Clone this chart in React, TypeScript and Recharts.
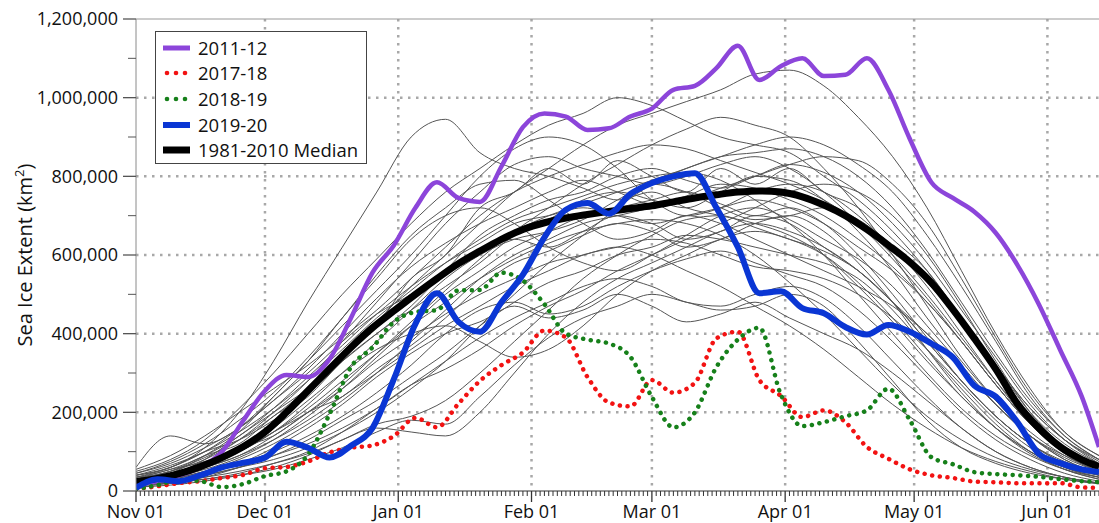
import { LineChart, Line, XAxis, YAxis, CartesianGrid, ReferenceLine, Label } from 'recharts';

// days since Nov 01
const monthDays = [0, 30, 61, 92, 120, 151, 181, 212];
const monthLabels = ['Nov 01', 'Dec 01', 'Jan 01', 'Feb 01', 'Mar 01', 'Apr 01', 'May 01', 'Jun 01'];
const dayTicks = Array.from({ length: 225 }, (_, i) => i);
const yTicks = [0, 100000, 200000, 300000, 400000, 500000, 600000, 700000, 800000, 900000, 1000000, 1100000, 1200000];

// highlighted seasons sampled every 5 days (thousand km2)
const hiDays = [0, 5, 10, 15, 20, 25, 30, 35, 40, 45, 50, 55, 60, 65, 70, 75, 80, 85, 90, 95, 100, 105, 110, 115, 120, 125, 130, 135, 140, 145, 150, 155, 160, 165, 170, 175, 180, 185, 190, 195, 200, 205, 210, 215, 220, 224];
const median = [24, 32, 44, 62, 85, 113, 150, 200, 255, 310, 365, 415, 458, 500, 540, 578, 610, 640, 665, 682, 694, 703, 711, 718, 725, 735, 745, 753, 760, 763, 760, 748, 727, 700, 665, 625, 582, 530, 462, 388, 310, 222, 160, 112, 80, 62];
const s2011 = [15, 25, 40, 60, 100, 180, 255, 295, 290, 335, 440, 555, 625, 720, 785, 745, 735, 825, 925, 960, 952, 918, 922, 952, 972, 1020, 1030, 1075, 1132, 1045, 1080, 1100, 1055, 1058, 1100, 1020, 895, 785, 745, 710, 656, 575, 475, 358, 240, 112];
const s2017 = [5, 12, 20, 25, 33, 41, 58, 61, 75, 98, 110, 116, 140, 186, 162, 222, 280, 320, 352, 408, 390, 290, 225, 215, 282, 250, 275, 388, 405, 282, 242, 188, 205, 175, 112, 82, 55, 40, 33, 24, 22, 20, 20, 20, 9, 8];
const s2018 = [5, 15, 28, 25, 10, 18, 38, 50, 92, 195, 315, 365, 430, 455, 460, 510, 511, 555, 535, 475, 400, 385, 375, 341, 239, 162, 200, 315, 385, 415, 245, 165, 175, 190, 205, 260, 180, 86, 68, 48, 43, 40, 36, 30, 25, 23];
const s2019 = [8, 30, 25, 40, 60, 72, 85, 125, 110, 85, 115, 160, 285, 425, 503, 430, 405, 480, 550, 645, 715, 732, 705, 755, 783, 800, 808, 720, 620, 503, 508, 465, 452, 417, 398, 422, 405, 375, 340, 268, 240, 175, 95, 71, 55, 48];

// other years, sampled every 8 days (thousand km2)
const greyDays = [0, 8, 16, 24, 32, 40, 48, 56, 64, 72, 80, 88, 96, 104, 112, 120, 128, 136, 144, 152, 160, 168, 176, 184, 192, 200, 208, 216, 224];
const greyRuns = [
  [40, 60, 110, 200, 330, 480, 620, 760, 900, 945, 860, 820, 800, 770, 740, 760, 720, 700, 680, 650, 600, 520, 430, 330, 240, 160, 100, 60, 40],
  [30, 45, 70, 110, 170, 250, 340, 430, 520, 600, 680, 760, 820, 880, 930, 960, 990, 1020, 1060, 1070, 1030, 950, 850, 720, 560, 400, 260, 150, 90],
  [50, 80, 130, 210, 300, 400, 500, 590, 680, 760, 820, 880, 930, 960, 1000, 980, 940, 900, 880, 860, 800, 740, 660, 560, 440, 320, 210, 130, 80],
  [15, 20, 30, 40, 55, 80, 110, 150, 180, 170, 240, 320, 390, 440, 470, 500, 480, 460, 470, 500, 470, 380, 280, 180, 110, 70, 45, 30, 20],
  [25, 35, 55, 85, 130, 190, 260, 340, 420, 500, 560, 620, 660, 700, 720, 740, 760, 730, 700, 720, 680, 600, 500, 390, 280, 190, 120, 75, 45],
  [20, 40, 80, 140, 200, 260, 330, 400, 470, 560, 650, 700, 740, 760, 800, 820, 790, 770, 800, 830, 810, 760, 680, 580, 460, 340, 220, 130, 70],
  [10, 20, 35, 60, 90, 130, 180, 230, 290, 350, 420, 480, 530, 560, 600, 620, 650, 640, 620, 600, 580, 540, 460, 360, 260, 170, 100, 55, 30],
  [45, 75, 120, 180, 250, 340, 440, 550, 650, 720, 780, 790, 740, 680, 640, 660, 700, 680, 640, 600, 560, 520, 470, 400, 310, 220, 140, 90, 55],
  [15, 25, 40, 60, 80, 110, 150, 200, 260, 330, 420, 500, 580, 650, 720, 780, 820, 850, 880, 900, 880, 830, 760, 650, 520, 380, 240, 140, 80],
  [35, 55, 90, 140, 210, 290, 370, 450, 520, 580, 630, 680, 700, 720, 700, 680, 700, 720, 740, 720, 680, 620, 560, 480, 380, 270, 170, 100, 60],
  [30, 50, 80, 130, 200, 280, 380, 480, 580, 680, 760, 830, 850, 820, 800, 780, 800, 830, 850, 820, 760, 680, 590, 490, 380, 270, 170, 100, 55],
  [20, 30, 45, 70, 100, 140, 190, 250, 320, 400, 460, 480, 450, 470, 520, 560, 590, 610, 580, 550, 520, 460, 380, 290, 200, 130, 80, 45, 25],
  [40, 65, 100, 150, 210, 280, 360, 440, 510, 580, 640, 690, 720, 750, 780, 800, 810, 790, 740, 680, 600, 500, 400, 300, 210, 140, 90, 55, 35],
  [25, 45, 70, 100, 150, 220, 300, 380, 460, 540, 600, 640, 660, 690, 740, 780, 760, 720, 690, 700, 720, 690, 620, 520, 400, 280, 170, 95, 50],
  [20, 30, 50, 80, 120, 170, 230, 300, 380, 460, 540, 600, 640, 680, 700, 720, 740, 770, 800, 830, 850, 840, 780, 680, 540, 390, 250, 150, 90],
  [10, 15, 25, 40, 60, 90, 130, 160, 150, 140, 200, 300, 400, 480, 540, 580, 620, 660, 680, 660, 620, 560, 480, 380, 280, 190, 120, 70, 40],
  [55, 90, 140, 200, 260, 320, 390, 460, 540, 620, 700, 760, 800, 830, 860, 880, 870, 840, 810, 780, 740, 680, 600, 500, 390, 280, 180, 110, 65],
  [30, 40, 60, 90, 130, 180, 240, 300, 360, 420, 470, 520, 560, 600, 620, 640, 630, 600, 570, 560, 540, 500, 440, 360, 270, 180, 110, 60, 35],
  [20, 35, 60, 100, 160, 230, 300, 360, 400, 420, 380, 340, 360, 420, 500, 560, 600, 640, 660, 640, 600, 530, 440, 340, 240, 160, 100, 60, 35],
  [35, 60, 100, 160, 240, 330, 420, 510, 600, 700, 800, 870, 900, 880, 820, 740, 700, 720, 760, 780, 760, 700, 620, 530, 430, 320, 210, 130, 75],
  [15, 25, 40, 60, 90, 120, 160, 210, 270, 330, 390, 440, 480, 520, 540, 520, 480, 470, 500, 520, 490, 420, 330, 240, 160, 100, 60, 35, 20],
  [45, 70, 110, 160, 230, 310, 400, 490, 570, 630, 680, 720, 760, 790, 760, 730, 750, 780, 770, 740, 700, 640, 570, 480, 380, 270, 170, 100, 55],
  [25, 40, 65, 100, 150, 210, 280, 350, 420, 480, 540, 590, 630, 660, 680, 690, 680, 650, 600, 530, 450, 360, 270, 190, 130, 85, 55, 35, 20],
  [30, 50, 85, 130, 190, 260, 340, 420, 490, 550, 610, 660, 700, 730, 760, 790, 820, 850, 860, 870, 850, 800, 720, 610, 480, 350, 230, 140, 80],
  [60, 140, 120, 160, 230, 300, 380, 450, 500, 560, 610, 640, 620, 660, 700, 680, 640, 660, 700, 680, 620, 560, 480, 400, 310, 220, 140, 80, 45],
  [20, 30, 50, 70, 110, 160, 220, 290, 350, 400, 430, 470, 440, 460, 500, 470, 430, 450, 480, 440, 400, 360, 300, 230, 160, 100, 60, 35, 20],
  [35, 50, 90, 120, 190, 250, 350, 420, 540, 600, 720, 760, 820, 780, 840, 800, 760, 820, 780, 820, 760, 720, 640, 560, 440, 320, 200, 120, 70],
  [25, 45, 90, 150, 240, 330, 440, 540, 640, 700, 720, 680, 620, 580, 560, 600, 650, 700, 720, 690, 640, 590, 520, 420, 320, 220, 140, 85, 50],
  [15, 20, 30, 45, 70, 100, 150, 210, 270, 310, 360, 420, 470, 510, 560, 600, 640, 680, 720, 760, 780, 760, 700, 600, 470, 330, 200, 110, 60],
  [30, 55, 75, 110, 140, 200, 240, 310, 370, 440, 520, 580, 610, 650, 680, 660, 620, 640, 680, 700, 660, 580, 480, 360, 250, 160, 95, 55, 30],
  [20, 35, 60, 90, 140, 200, 270, 350, 430, 510, 590, 660, 720, 780, 830, 880, 920, 950, 930, 900, 820, 720, 600, 470, 340, 230, 140, 80, 45],
  [15, 25, 35, 50, 70, 95, 130, 170, 190, 230, 300, 380, 460, 540, 600, 650, 690, 700, 670, 640, 610, 560, 480, 380, 280, 190, 120, 70, 40],
  [40, 60, 100, 130, 180, 240, 330, 400, 460, 520, 580, 650, 690, 740, 760, 740, 720, 760, 800, 790, 740, 660, 560, 440, 330, 230, 150, 90, 50],
  [20, 40, 60, 100, 150, 200, 260, 330, 390, 450, 500, 540, 580, 600, 620, 600, 560, 520, 470, 420, 360, 290, 220, 160, 110, 75, 50, 30, 18],
];

const toPoints = (days: number[], vals: number[]) => vals.map((v, i) => ({ day: days[i], value: v * 1000 }));

const FONT = '"Open Sans", sans-serif';

const legendItems = [
  { label: '2011-12', color: '#8c45da', dotted: false, width: 5 },
  { label: '2017-18', color: '#f21212', dotted: true, width: 5 },
  { label: '2018-19', color: '#16801a', dotted: true, width: 5 },
  { label: '2019-20', color: '#0a36d4', dotted: false, width: 6 },
  { label: '1981-2010 Median', color: '#000000', dotted: false, width: 7 },
];

const DayTick = (props: any) => {
  const { x, y, payload } = props;
  const i = monthDays.indexOf(payload.value);
  if (i < 0) return <line x1={x} x2={x} y1={y} y2={y + 5} stroke="#333" strokeWidth={1} />;
  return (
    <g>
      <line x1={x} x2={x} y1={y} y2={y + 11} stroke="#333" strokeWidth={1.3} />
      <text x={x} y={y + 27} textAnchor="middle" fontSize={18} fill="#111" fontFamily={FONT}>
        {monthLabels[i]}
      </text>
    </g>
  );
};

const ValueTick = (props: any) => {
  const { x, y, payload } = props;
  const major = payload.value % 200000 === 0;
  if (!major) return <line x1={x - 8} x2={x} y1={y} y2={y} stroke="#555" strokeWidth={1} />;
  return (
    <g>
      <line x1={x - 13} x2={x} y1={y} y2={y} stroke="#555" strokeWidth={1.3} />
      <text x={x - 18} y={y} dy="0.35em" textAnchor="end" fontSize={18} fill="#111" fontFamily={FONT}>
        {payload.value.toLocaleString('en-US')}
      </text>
    </g>
  );
};

const AxisTitle = (props: any) => {
  const { viewBox } = props;
  const cy = viewBox.y + viewBox.height / 2;
  return (
    <text x={25} y={cy} transform={`rotate(-90 25 ${cy})`} textAnchor="middle" dy="0.35em" fontSize={20} fill="#111" fontFamily={FONT}>
      Sea Ice Extent (km<tspan dy="-8" fontSize={13}>2</tspan>
      <tspan dy="8">)</tspan>
    </text>
  );
};

const LegendBox = () => (
  <div
    style={{
      position: 'absolute',
      left: 155,
      top: 31,
      width: 212,
      height: 133,
      border: '1px solid #444',
      background: '#fff',
      fontFamily: FONT,
      fontSize: 18.5,
      color: '#111',
      boxSizing: 'border-box',
      paddingTop: 3,
    }}
  >
    {legendItems.map((it) => (
      <div key={it.label} style={{ display: 'flex', alignItems: 'center', height: 25.6, paddingLeft: 7 }}>
        <svg width={28} height={12} style={{ marginRight: 7 }}>
          {it.dotted ? (
            [4, 13, 22].map((cx) => <circle key={cx} cx={cx} cy={6} r={2.3} fill={it.color} />)
          ) : (
            <line x1={0} x2={27} y1={6} y2={6} stroke={it.color} strokeWidth={it.width} />
          )}
        </svg>
        <span style={{ lineHeight: '20px' }}>{it.label}</span>
      </div>
    ))}
  </div>
);

export default function App() {
  return (
    <div style={{ position: 'absolute', left: 0, top: 0, width: 1099, height: 523, background: '#fff' }}>
      <LineChart width={1099} height={523} margin={{ top: 19, right: 0, bottom: 0, left: 0 }}>
        <CartesianGrid
          stroke="#a8a8a8"
          strokeWidth={2.5}
          strokeDasharray="2.5 5.5"
          verticalValues={monthDays.slice(1)}
          horizontalValues={[200000, 400000, 600000, 800000, 1000000]}
        />
        <XAxis
          dataKey="day"
          type="number"
          domain={[0, 224]}
          ticks={dayTicks}
          interval={0}
          tick={<DayTick />}
          tickLine={false}
          tickSize={0}
          tickMargin={0}
          height={32}
          stroke="#333"
          allowDataOverflow
        />
        <YAxis
          type="number"
          domain={[0, 1200000]}
          ticks={yTicks}
          interval={0}
          tick={<ValueTick />}
          tickLine={false}
          tickSize={0}
          tickMargin={0}
          width={136}
          stroke="#8a8a8a"
        >
          <Label content={<AxisTitle />} />
        </YAxis>
        <ReferenceLine y={1200000} stroke="#9a9a9a" strokeWidth={1.2} />
        {greyRuns.map((run, i) => (
          <Line
            key={i}
            data={toPoints(greyDays, run)}
            dataKey="value"
            type="monotone"
            stroke="#555"
            strokeWidth={1}
            dot={false}
            isAnimationActive={false}
          />
        ))}
        <Line data={toPoints(hiDays, s2011)} dataKey="value" type="monotone" stroke="#8c45da" strokeWidth={4.5} dot={false} isAnimationActive={false} />
        <Line data={toPoints(hiDays, s2017)} dataKey="value" type="monotone" stroke="#f21212" strokeWidth={4.5} strokeDasharray="0.1 7.6" strokeLinecap="round" dot={false} isAnimationActive={false} />
        <Line data={toPoints(hiDays, s2018)} dataKey="value" type="monotone" stroke="#16801a" strokeWidth={4.5} strokeDasharray="0.1 7.6" strokeLinecap="round" dot={false} isAnimationActive={false} />
        <Line data={toPoints(hiDays, median)} dataKey="value" type="monotone" stroke="#000" strokeWidth={7} dot={false} isAnimationActive={false} />
        <Line data={toPoints(hiDays, s2019)} dataKey="value" type="monotone" stroke="#0a36d4" strokeWidth={6} dot={false} isAnimationActive={false} />
      </LineChart>
      <LegendBox />
    </div>
  );
}
